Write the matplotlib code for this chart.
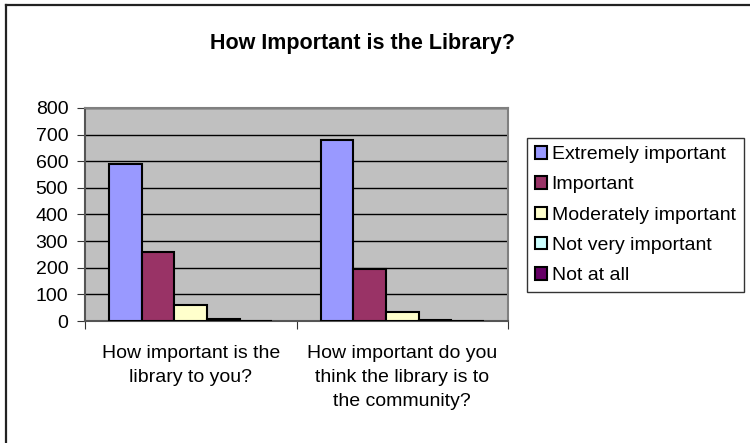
import numpy as np
import matplotlib
matplotlib.use("Agg")
import matplotlib.pyplot as plt
from matplotlib.lines import Line2D

plt.rcParams['font.family'] = ['Liberation Sans', 'DejaVu Sans']

categories = ["How important is the\nlibrary to you?",
              "How important do you\nthink the library is to\nthe community?"]
series = ["Extremely important", "Important", "Moderately important",
          "Not very important", "Not at all"]
extremely = [590, 678]
important = [260, 196]
moderately = [60, 34]
not_very = [8, 4]
not_at_all = [0, 0]
colors = ["#9999FF", "#993366", "#FFFFCC", "#CCFFFF", "#660066"]

values = [extremely, important, moderately, not_very, not_at_all]

fig = plt.figure(figsize=(7.5, 4.43), dpi=100)
ax = fig.add_axes([85 / 750, 1 - 321 / 443, 423 / 750, 213 / 443])
ax.set_facecolor("#C0C0C0")

x = np.arange(len(categories))
w = 1 / 6.5
for i, (name, vals) in enumerate(zip(series, values)):
    ax.bar(x + (i - 2) * w, vals, w, color=colors[i], edgecolor="black",
           linewidth=1.5, label=name, zorder=3)

ax.set_xlim(-0.5, 1.5)
ax.set_ylim(0, 800)
ax.set_yticks(range(0, 801, 100))
ax.yaxis.grid(True, color="black", linewidth=1, zorder=1)
ax.set_axisbelow(True)

ax.set_xticks([-0.5, 0.5, 1.5])
ax.set_xticklabels([])
ax.set_xticks(x, minor=True)
ax.set_xticklabels(categories, minor=True, fontsize=14, linespacing=1.55)
ax.tick_params(axis="x", which="minor", length=0, pad=17)
ax.tick_params(axis="x", which="major", length=6, direction="out", color="#333333")
ax.tick_params(axis="y", length=6, direction="out", color="#333333", labelsize=14, pad=6)

for s in ["top", "right"]:
    ax.spines[s].set_color("#808080")
    ax.spines[s].set_linewidth(1.5)
ax.spines["left"].set_color("#555555")
ax.spines["left"].set_linewidth(1.5)
ax.spines["bottom"].set_color("#555555")
ax.spines["bottom"].set_linewidth(1.5)

fig.text(363 / 750, 1 - 43 / 443, "How Important is the Library?", ha="center", va="center",
         fontsize=15.5, fontweight="bold")

leg = fig.legend(loc="upper left", bbox_to_anchor=(527 / 750, 1 - 138 / 443),
                 fontsize=14, frameon=True, fancybox=False, edgecolor="black",
                 handlelength=0.6, handleheight=0.6, handletextpad=0.25,
                 borderpad=0.42, labelspacing=0.68, borderaxespad=0)
leg.get_frame().set_linewidth(1)

# chart frame (only top and left edges are inside the picture)
fig.add_artist(Line2D([5.5 / 750, 1], [1 - 4.5 / 443, 1 - 4.5 / 443], transform=fig.transFigure,
                      color="#222222", linewidth=1.6))
fig.add_artist(Line2D([5.5 / 750, 5.5 / 750], [0, 1 - 4.5 / 443], transform=fig.transFigure,
                      color="#222222", linewidth=1.6))

fig.savefig("out.png", dpi=100)
